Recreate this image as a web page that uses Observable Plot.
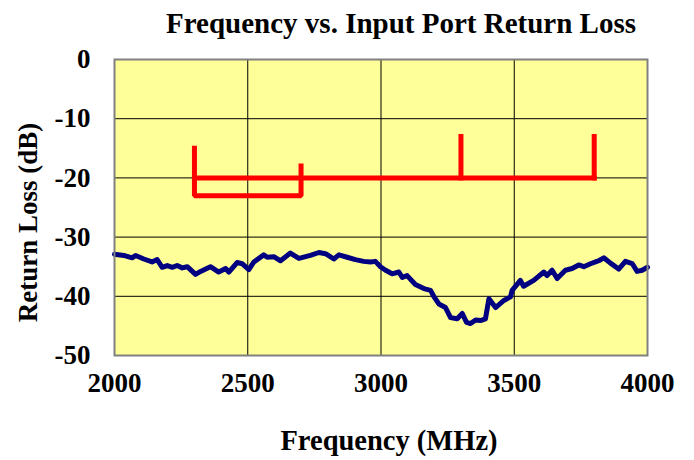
<!DOCTYPE html>
<html>
<head>
<meta charset="utf-8">
<script src="https://cdn.jsdelivr.net/npm/d3@7"></script>
<script src="https://cdn.jsdelivr.net/npm/@observablehq/plot@0.6"></script>
<style>
  html, body { margin: 0; padding: 0; background: #ffffff; }
</style>
</head>
<body>
<div id="chart"></div>
<script>
const titleText = "Frequency vs. Input Port Return Loss";
const xLabel = "Frequency (MHz)";
const yLabel = "Return Loss (dB)";
const xTicks = [2000, 2500, 3000, 3500, 4000];
const yTicks = [0, -10, -20, -30, -40, -50];

// measured return loss curve
const freq = [2000, 2035, 2066, 2079, 2110, 2141, 2160, 2179, 2198, 2217, 2235, 2254, 2273, 2304, 2323, 2360, 2391, 2417, 2429, 2460, 2479, 2504, 2523, 2560, 2573, 2598, 2623, 2660, 2692, 2735, 2767, 2792, 2823, 2842, 2873, 2904, 2935, 2961, 2979, 2998, 3017, 3042, 3067, 3080, 3098, 3129, 3161, 3186, 3198, 3217, 3242, 3261, 3286, 3305, 3321, 3336, 3355, 3373, 3392, 3405, 3430, 3461, 3486, 3492, 3523, 3535, 3573, 3611, 3623, 3642, 3661, 3692, 3717, 3742, 3761, 3786, 3805, 3817, 3836, 3861, 3892, 3917, 3943, 3961, 3980, 4000];
const returnLoss = [-32.9, -33.1, -33.5, -33.1, -33.7, -34.2, -33.8, -35.1, -34.8, -35.1, -34.8, -35.2, -35.0, -36.3, -35.8, -35.0, -35.9, -35.3, -35.9, -34.3, -34.5, -35.5, -34.2, -33.0, -33.4, -33.3, -34.0, -32.7, -33.6, -33.1, -32.6, -32.8, -33.7, -33.0, -33.4, -33.8, -34.1, -34.2, -34.1, -35.0, -35.6, -36.2, -35.9, -36.8, -36.5, -38.0, -38.7, -39.0, -40.0, -41.3, -41.9, -43.6, -43.8, -42.9, -44.4, -44.6, -44.0, -44.1, -43.8, -40.4, -41.9, -40.7, -40.1, -39.0, -37.3, -38.3, -37.3, -35.9, -36.5, -35.6, -37.0, -35.6, -35.3, -34.7, -35.0, -34.5, -34.2, -34.0, -33.5, -34.4, -35.4, -34.1, -34.5, -35.8, -35.6, -35.1];

// specification mask (red), drawn as separate polylines
const maskGroup = ["a", "a", "a", "a", "b", "b", "c", "c", "d", "d"];
const maskFreq  = [2300, 2300, 2700, 2700, 2300, 3800, 3300, 3300, 3800, 3800];
const maskLoss  = [-15, -23, -23, -18, -20, -20, -20, -13, -20, -13];

const curve = freq.map((f, i) => ({f, rl: returnLoss[i]}));
const mask = maskFreq.map((f, i) => ({g: maskGroup[i], f, rl: maskLoss[i]}));

const font = "'Liberation Serif', 'Times New Roman', serif";

const chart = Plot.plot({
  width: 694,
  height: 460,
  marginLeft: 114,
  marginRight: 47,
  marginTop: 59,
  marginBottom: 105,
  style: { fontFamily: font, fontSize: "27px", fontWeight: "bold", background: "#ffffff", color: "#000000" },
  x: { domain: [2000, 4000] },
  y: { domain: [-50, 0] },
  marks: [
    Plot.frame({ fill: "#FFFF99" }),
    Plot.gridX(xTicks, { stroke: "#000000", strokeOpacity: 1, strokeWidth: 1 }),
    Plot.gridY(yTicks, { stroke: "#000000", strokeOpacity: 1, strokeWidth: 1 }),
    Plot.line(mask, { x: "f", y: "rl", z: "g", stroke: "#FF0000", strokeWidth: 5, strokeLinejoin: "miter", strokeLinecap: "square" }),
    Plot.line(curve, { x: "f", y: "rl", stroke: "#000080", strokeWidth: 5, strokeLinejoin: "round", strokeLinecap: "round" }),
    Plot.frame({ stroke: "#808080", strokeWidth: 2 }),
    Plot.axisX(xTicks, { tickSize: 0, tickPadding: 17, label: null, tickFormat: d => String(d), fontSize: 27, fontWeight: "bold" }),
    Plot.axisY(yTicks, { tickSize: 0, tickPadding: 24, label: null, tickFormat: d => String(d), fontSize: 27, fontWeight: "bold" }),
    Plot.text([titleText], { frameAnchor: "top", lineAnchor: "middle", textAnchor: "middle", dy: -36, dx: 20, fontSize: 29, fontWeight: "bold", fill: "#000000" }),
    Plot.text([xLabel], { frameAnchor: "bottom", lineAnchor: "middle", textAnchor: "middle", dy: 85, dx: 8, fontSize: 28.5, fontWeight: "bold", fill: "#000000" }),
    Plot.text([yLabel], { frameAnchor: "left", lineAnchor: "middle", textAnchor: "middle", dx: -86, dy: 15, rotate: -90, fontSize: 27, fontWeight: "bold", fill: "#000000" })
  ]
});
document.getElementById("chart").appendChild(chart);
</script>
</body>
</html>
